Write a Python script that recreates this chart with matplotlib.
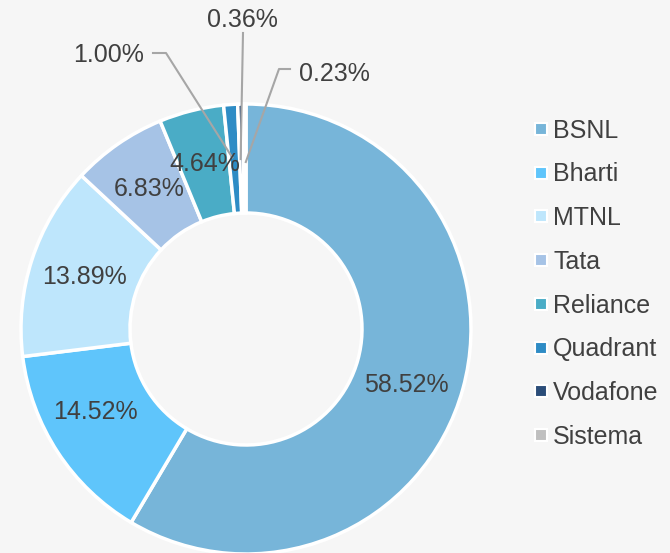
import numpy as np
import matplotlib
matplotlib.use("Agg")
import matplotlib.pyplot as plt
from matplotlib.lines import Line2D

# telecom operator shares
operators = ["BSNL", "Bharti", "MTNL", "Tata", "Reliance", "Quadrant", "Vodafone", "Sistema"]
shares = [58.52, 14.52, 13.89, 6.83, 4.64, 1.00, 0.36, 0.23]
colors = ["#77b5d9", "#5fc5fb", "#bee6fc", "#a6c3e6", "#4aacc6", "#2e8cc5", "#2b4d79", "#bfbfbf"]

plt.rcParams["font.family"] = ["Liberation Sans", "DejaVu Sans"]
bg = "#f6f6f6"
txt = "#404040"

fig = plt.figure(figsize=(6.7, 5.53), dpi=100, facecolor=bg)
ax = fig.add_axes([0, 0, 1, 1])
ax.set_facecolor(bg)

R = 225
wedges, _ = ax.pie(shares, colors=colors, radius=R, startangle=90, counterclock=False,
                   wedgeprops=dict(width=109, edgecolor="white", linewidth=2.5))
ax.set_xlim(-246, 424)
ax.set_ylim(-224, 329)
ax.axis("off")

# mid angle of every slice (degrees clockwise from top)
cum = np.cumsum(shares)
mids = (cum - np.array(shares) / 2) / sum(shares) * 360
def pos(i, r):
    a = np.radians(mids[i])
    return r * np.sin(a), r * np.cos(a)

# labels inside the ring
nudge = {0: (-4, -11), 1: (-8, 10)}
for i in range(5):
    x, y = pos(i, 170)
    dx, dy = nudge.get(i, (0, 0))
    ax.text(x + dx, y + dy, "%.2f%%" % shares[i], ha="center", va="center",
            fontsize=18, color=txt)

# small slices with leader lines
lc = "#a6a6a6"
# 1.00%
x, y = pos(5, 172)
ax.plot([-93, -80, x - 2], [276, 276, y], color=lc, lw=1.5)
ax.text(-102, 274, "1.00%", ha="right", va="center", fontsize=18, color=txt)
# 0.36%
x, y = pos(6, 170)
ax.plot([-3, x - 1], [296, y], color=lc, lw=1.5)
ax.text(-3.5, 309, "0.36%", ha="center", va="center", fontsize=18, color=txt)
# 0.23%
x, y = pos(7, 167)
ax.plot([44, 33, x + 1], [260, 260, y], color=lc, lw=1.5)
ax.text(53, 255, "0.23%", ha="left", va="center", fontsize=18, color=txt)

handles = [Line2D([], [], marker="s", linestyle="none", markersize=8, markerfacecolor=c,
                  markeredgecolor="white", markeredgewidth=1.5) for c in colors]
leg = fig.legend(handles, operators, loc="center left", bbox_to_anchor=(0.762, 0.487),
                 frameon=False, fontsize=18, labelspacing=0.79, handlelength=0.6,
                 handletextpad=0.2, labelcolor=txt)

plt.savefig("out.png", dpi=100, facecolor=bg)
